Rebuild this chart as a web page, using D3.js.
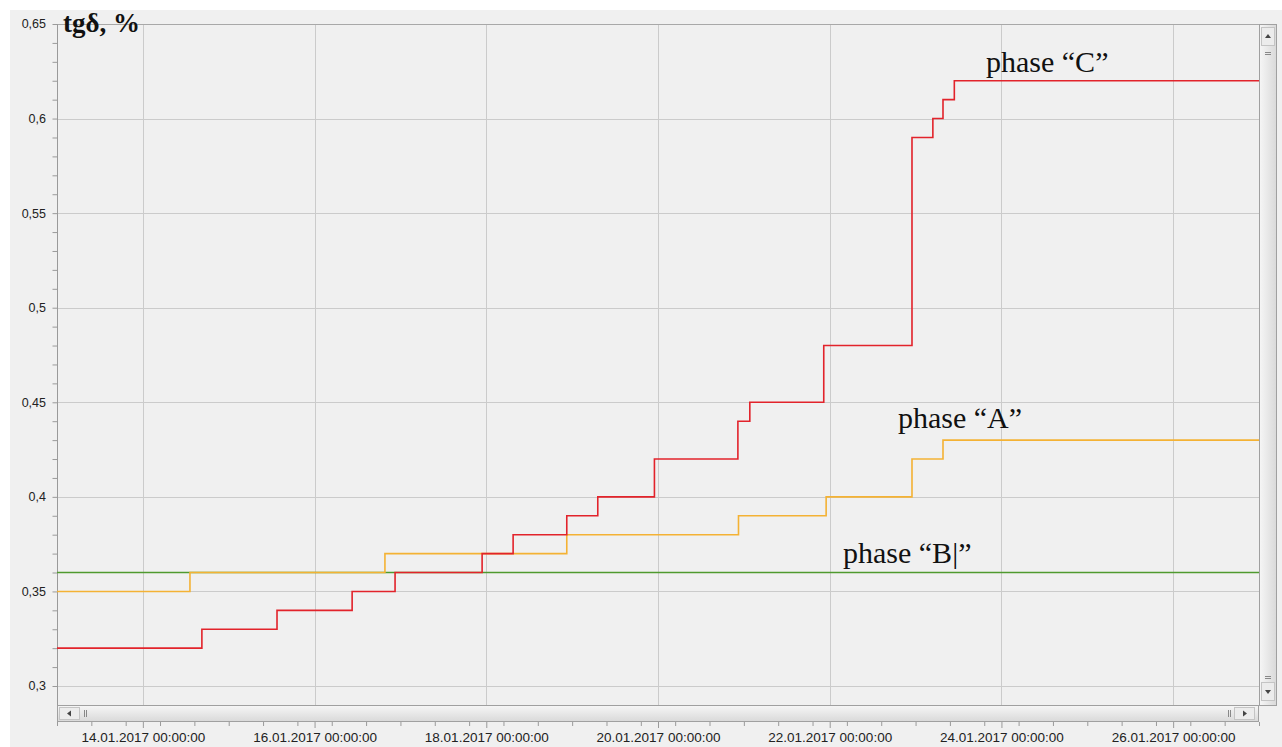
<!DOCTYPE html>
<html><head><meta charset="utf-8">
<script src="https://cdn.jsdelivr.net/npm/d3@7"></script>
<style>body{margin:0;background:#fff}svg{display:block}</style>
</head><body><svg id="c" width="1282" height="747"></svg>
<script>
// ---- data ----
const phaseCTimes = ["2017-01-13T00:00","2017-01-14T16:30","2017-01-15T13:30","2017-01-16T10:30","2017-01-16T22:30","2017-01-17T22:50","2017-01-18T07:30","2017-01-18T22:30","2017-01-19T07:10","2017-01-19T23:00","2017-01-20T22:20","2017-01-21T01:40","2017-01-21T22:20","2017-01-22T23:00","2017-01-23T04:50","2017-01-23T07:40","2017-01-23T10:50","2017-01-27T00:00"];
const phaseCValues = [0.32,0.33,0.34,0.35,0.36,0.37,0.38,0.39,0.40,0.42,0.44,0.45,0.48,0.59,0.60,0.61,0.62,0.62];
const phaseATimes = ["2017-01-13T00:00","2017-01-14T13:10","2017-01-16T19:40","2017-01-18T22:30","2017-01-20T22:30","2017-01-21T23:00","2017-01-22T23:00","2017-01-23T07:40","2017-01-27T00:00"];
const phaseAValues = [0.35,0.36,0.37,0.38,0.39,0.40,0.42,0.43,0.43];
const phaseBTimes = ["2017-01-13T00:00","2017-01-27T00:00"];
const phaseBValues = [0.36,0.36];
const yTicks = [0.30,0.35,0.40,0.45,0.50,0.55,0.60,0.65];
const xTickDates = ["2017-01-14T00:00","2017-01-16T00:00","2017-01-18T00:00","2017-01-20T00:00","2017-01-22T00:00","2017-01-24T00:00","2017-01-26T00:00"];
const seriesLabels = ["phase \u201CC\u201D","phase \u201CA\u201D","phase \u201CB|\u201D"];
const yTitle = "tg\u03B4, %";

// ---- layout ----
const svg = d3.select("#c");
const L=57, R=1259, T=24, B=705;
const parse = d3.utcParse("%Y-%m-%dT%H:%M");
const x = d3.scaleUtc().domain([parse("2017-01-13T00:00"), parse("2017-01-27T00:00")]).range([L,R]);
const y = d3.scaleLinear().domain([0.30,0.65]).range([686,T]);
const fmtY = v => d3.format(".2~f")(v).replace(".",",");
const fmtX = d3.utcFormat("%d.%m.%Y %H:%M:%S");

svg.append("rect").attr("width",1282).attr("height",747).attr("fill","#fff");
svg.append("rect").attr("x",10).attr("y",10).attr("width",1272).attr("height",737).attr("fill","#f0f0f0");

const defs = svg.append("defs");
defs.append("clipPath").attr("id","clip").append("rect").attr("x",L).attr("y",T).attr("width",R-L).attr("height",B-T);
const gh = defs.append("linearGradient").attr("id","gh").attr("x1",0).attr("y1",0).attr("x2",0).attr("y2",1);
gh.append("stop").attr("offset",0).attr("stop-color","#f6f6f6");
gh.append("stop").attr("offset",1).attr("stop-color","#d9d9d9");
const gv = defs.append("linearGradient").attr("id","gv").attr("x1",0).attr("y1",0).attr("x2",1).attr("y2",0);
gv.append("stop").attr("offset",0).attr("stop-color","#f6f6f6");
gv.append("stop").attr("offset",1).attr("stop-color","#d9d9d9");

// grid
const grid = svg.append("g").attr("stroke","#cbcbcb").attr("stroke-width",1);
yTicks.forEach(v=>grid.append("line").attr("x1",L).attr("x2",R).attr("y1",Math.round(y(v))+0.5).attr("y2",Math.round(y(v))+0.5));
xTickDates.forEach(d=>{const px=Math.round(x(parse(d)))+0.5;grid.append("line").attr("x1",px).attr("x2",px).attr("y1",T).attr("y2",B);});

// plot border
svg.append("rect").attr("x",L+0.5).attr("y",T+0.5).attr("width",R-L).attr("height",B-T).attr("fill","none").attr("stroke","#a8a8a8");

// y axis
const yAxis = d3.axisLeft(y).tickValues(d3.range(30,66).map(v=>v/100)).tickSize(5).tickFormat("");
const ga = svg.append("g").attr("transform",`translate(${L+0.5},0)`).call(yAxis);
ga.selectAll("path,line").attr("stroke","#9a9a9a");
ga.select(".domain").attr("d",`M0,${T}V${B}`);
svg.append("g").selectAll("text").data(yTicks).join("text")
  .attr("x",46).attr("y",d=>y(d)).attr("dy","0.35em").attr("text-anchor","end")
  .attr("font-family","Liberation Sans, Arial, sans-serif").attr("font-size",12.5).attr("fill","#222")
  .text(fmtY);

// x axis (below scrollbar)
const xMinor = [];
for(let t=parse("2017-01-13T00:00").getTime(); t<=parse("2017-01-27T00:00").getTime(); t+=0.4*86400000) xMinor.push(new Date(t));
const gx = svg.append("g").attr("transform","translate(0,722)");
gx.call(d3.axisBottom(x).tickValues(xMinor).tickSize(4).tickFormat(""));
gx.select(".domain").remove();
gx.selectAll("line").attr("stroke","#9a9a9a");
const gx2 = svg.append("g").attr("transform","translate(0,722)");
gx2.call(d3.axisBottom(x).tickValues(xTickDates.map(parse)).tickSize(6).tickFormat(fmtX));
gx2.select(".domain").remove();
gx2.selectAll("line").attr("stroke","#9a9a9a");
gx2.selectAll("text").attr("font-family","Liberation Sans, Arial, sans-serif").attr("font-size",13.5).attr("fill","#222").attr("y",10);

// lines
const line = d3.line().curve(d3.curveStepAfter).x(d=>x(d[0])).y(d=>y(d[1]));
const mk = (ts,vs)=>ts.map((t,i)=>[parse(t),vs[i]]);
const plot = svg.append("g").attr("clip-path","url(#clip)");
plot.append("path").datum(mk(phaseBTimes,phaseBValues)).attr("d",line).attr("fill","none").attr("stroke","#4f9a2f").attr("stroke-width",1.6);
plot.append("path").datum(mk(phaseATimes,phaseAValues)).attr("d",line).attr("fill","none").attr("stroke","#f4b234").attr("stroke-width",1.6);
plot.append("path").datum(mk(phaseCTimes,phaseCValues)).attr("d",line).attr("fill","none").attr("stroke","#e2232b").attr("stroke-width",1.6);

// labels
const lab = svg.append("g").attr("font-family","Liberation Serif, Times New Roman, serif").attr("font-size",30).attr("fill","#111");
lab.append("text").attr("x",986).attr("y",72).text(seriesLabels[0]);
lab.append("text").attr("x",898).attr("y",428).text(seriesLabels[1]);
lab.append("text").attr("x",843).attr("y",563).text(seriesLabels[2]);
svg.append("text").attr("x",63).attr("y",32).attr("font-family","Liberation Serif, Times New Roman, serif").attr("font-weight","bold").attr("font-size",27).attr("fill","#111").text(yTitle);

// horizontal scrollbar
const hs = svg.append("g");
hs.append("rect").attr("x",L+0.5).attr("y",705.5).attr("width",R-L-1).attr("height",16).attr("fill","url(#gh)").attr("stroke","#a0a0a0");
hs.append("rect").attr("x",L+2.5).attr("y",707.5).attr("width",20).attr("height",12).attr("fill","#ececec").attr("stroke","#c4c4c4");
hs.append("rect").attr("x",R-24.5).attr("y",707.5).attr("width",20).attr("height",12).attr("fill","#ececec").attr("stroke","#c4c4c4");
hs.append("path").attr("d",`M${L+10},713.5l4,-3v6z`).attr("fill","#444");
hs.append("path").attr("d",`M${R-12},713.5l-4,-3v6z`).attr("fill","#444");
hs.append("path").attr("d",`M${L+27.5},710v7M${L+29.5},710v7M${R-30.5},710v7M${R-28.5},710v7`).attr("stroke","#888");
// vertical scrollbar
const vs = svg.append("g");
vs.append("rect").attr("x",R+0.5).attr("y",T+0.5).attr("width",17).attr("height",B-T).attr("fill","url(#gv)").attr("stroke","#a0a0a0");
vs.append("rect").attr("x",R+2.5).attr("y",T+3.5).attr("width",13).attr("height",18).attr("fill","#ececec").attr("stroke","#c4c4c4");
vs.append("rect").attr("x",R+2.5).attr("y",B-22.5).attr("width",13).attr("height",18).attr("fill","#ececec").attr("stroke","#c4c4c4");
vs.append("path").attr("d",`M${R+9},${T+10}l-3,4h6z`).attr("fill","#444");
vs.append("path").attr("d",`M${R+9},${B-11}l-3,-4h6z`).attr("fill","#444");
vs.append("path").attr("d",`M${R+6},${T+28.5}h6M${R+6},${T+30.5}h6M${R+6},${B-28.5}h6M${R+6},${B-26.5}h6`).attr("stroke","#888");
</script></body></html>
